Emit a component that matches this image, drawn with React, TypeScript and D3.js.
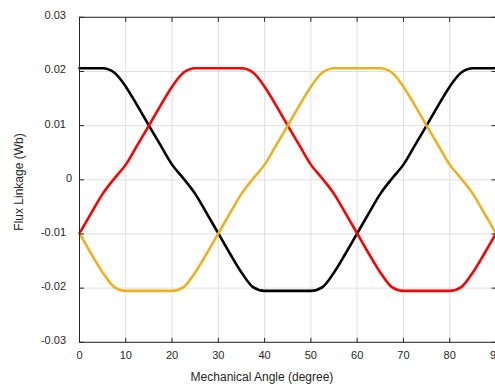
import React from "react";
import * as d3 from "d3";

const angles: number[] = Array.from({ length: 37 }, (_, i) => i * 2.5);

const blackSeries: number[] = [
  0.0206, 0.0206, 0.0206, 0.0198, 0.0172, 0.0137, 0.0100, 0.0064, 0.0028, 0.0002,
  -0.0026, -0.0062, -0.0099, -0.0136, -0.0171, -0.0198, -0.0205, -0.0205, -0.0205,
  -0.0205, -0.0205, -0.0198, -0.0171, -0.0136, -0.0099, -0.0062, -0.0026, 0.0002,
  0.0028, 0.0064, 0.0100, 0.0137, 0.0172, 0.0198, 0.0206, 0.0206, 0.0206,
];

const redSeries: number[] = [
  -0.0099, -0.0062, -0.0026, 0.0002, 0.0028, 0.0064, 0.0100, 0.0137, 0.0172, 0.0198,
  0.0206, 0.0206, 0.0206, 0.0206, 0.0206, 0.0198, 0.0172, 0.0137, 0.0100,
  0.0064, 0.0028, 0.0002, -0.0026, -0.0062, -0.0099, -0.0136, -0.0171, -0.0198,
  -0.0205, -0.0205, -0.0205, -0.0205, -0.0205, -0.0198, -0.0171, -0.0136, -0.0099,
];

const yellowSeries: number[] = [
  -0.0099, -0.0136, -0.0171, -0.0198, -0.0205, -0.0205, -0.0205, -0.0205, -0.0205, -0.0198,
  -0.0171, -0.0136, -0.0099, -0.0062, -0.0026, 0.0002, 0.0028, 0.0064, 0.0100,
  0.0137, 0.0172, 0.0198, 0.0206, 0.0206, 0.0206, 0.0206, 0.0206, 0.0198,
  0.0172, 0.0137, 0.0100, 0.0064, 0.0028, 0.0002, -0.0026, -0.0062, -0.0099,
];

const xTicks: number[] = [0, 10, 20, 30, 40, 50, 60, 70, 80, 90];
const yTicks: number[] = [-0.03, -0.02, -0.01, 0, 0.01, 0.02, 0.03];
const yTickLabels: string[] = ["-0.03", "-0.02", "-0.01", "0", "0.01", "0.02", "0.03"];

const seriesList = [
  { name: "A", values: blackSeries, color: "#000000" },
  { name: "B", values: redSeries, color: "#ff0000" },
  { name: "C", values: yellowSeries, color: "#EDB120" },
];

const W = 495;
const H = 388;
const L = 79.5;
const R = 496;
const T = 17.3;
const B = 342.3;

export default function App() {
  const x = d3.scaleLinear().domain([0, 90]).range([L, R]);
  const y = d3.scaleLinear().domain([-0.03, 0.03]).range([B, T]);
  const line = d3
    .line<[number, number]>()
    .x((d) => x(d[0]))
    .y((d) => y(d[1]))
    .curve(d3.curveMonotoneX);
  const axisColor = "#262626";
  const grid = "#e0e0e0";
  const tl = 4.5;
  const font = "'Liberation Sans', Arial, Helvetica, sans-serif";

  return (
    <svg
      width={W}
      height={H}
      style={{ position: "absolute", left: 0, top: 0, background: "#fff" }}
      fontFamily={font}
    >
      <rect x={0} y={0} width={W} height={H} fill="#fff" />
      {xTicks.map((t) => (
        <line key={"gx" + t} x1={x(t)} x2={x(t)} y1={T} y2={B} stroke={grid} strokeWidth={1} />
      ))}
      {yTicks.map((t) => (
        <line key={"gy" + t} x1={L} x2={R} y1={y(t)} y2={y(t)} stroke={grid} strokeWidth={1} />
      ))}
      {seriesList.map((s) => (
        <path
          key={s.name}
          d={line(angles.map((a, i) => [a, s.values[i]] as [number, number])) || ""}
          fill="none"
          stroke={s.color}
          strokeWidth={2.6}
          strokeLinejoin="round"
          strokeLinecap="round"
        />
      ))}
      <rect x={L} y={T} width={R - L} height={B - T} fill="none" stroke={axisColor} strokeWidth={1} />
      {xTicks.map((t) => (
        <g key={"tx" + t}>
          <line x1={x(t)} x2={x(t)} y1={B} y2={B - tl} stroke={axisColor} />
          <line x1={x(t)} x2={x(t)} y1={T} y2={T + tl} stroke={axisColor} />
          <text x={x(t)} y={359} textAnchor="middle" fontSize={11} fill={axisColor}>
            {t}
          </text>
        </g>
      ))}
      {yTicks.map((t, i) => (
        <g key={"ty" + t}>
          <line x1={L} x2={L + tl} y1={y(t)} y2={y(t)} stroke={axisColor} />
          <line x1={R} x2={R - tl} y1={y(t)} y2={y(t)} stroke={axisColor} />
          <text
            x={yTickLabels[i] === "0" ? 72 : 66}
            y={y(t) + 2}
            textAnchor="end"
            fontSize={11}
            fill={axisColor}
          >
            {yTickLabels[i]}
          </text>
        </g>
      ))}
      <text x={262} y={381} textAnchor="middle" fontSize={12} fill={axisColor}>
        Mechanical Angle (degree)
      </text>
      <text
        transform={`translate(${23},${182}) rotate(-90)`}
        textAnchor="middle"
        fontSize={12}
        fill={axisColor}
      >
        Flux Linkage (Wb)
      </text>
    </svg>
  );
}
